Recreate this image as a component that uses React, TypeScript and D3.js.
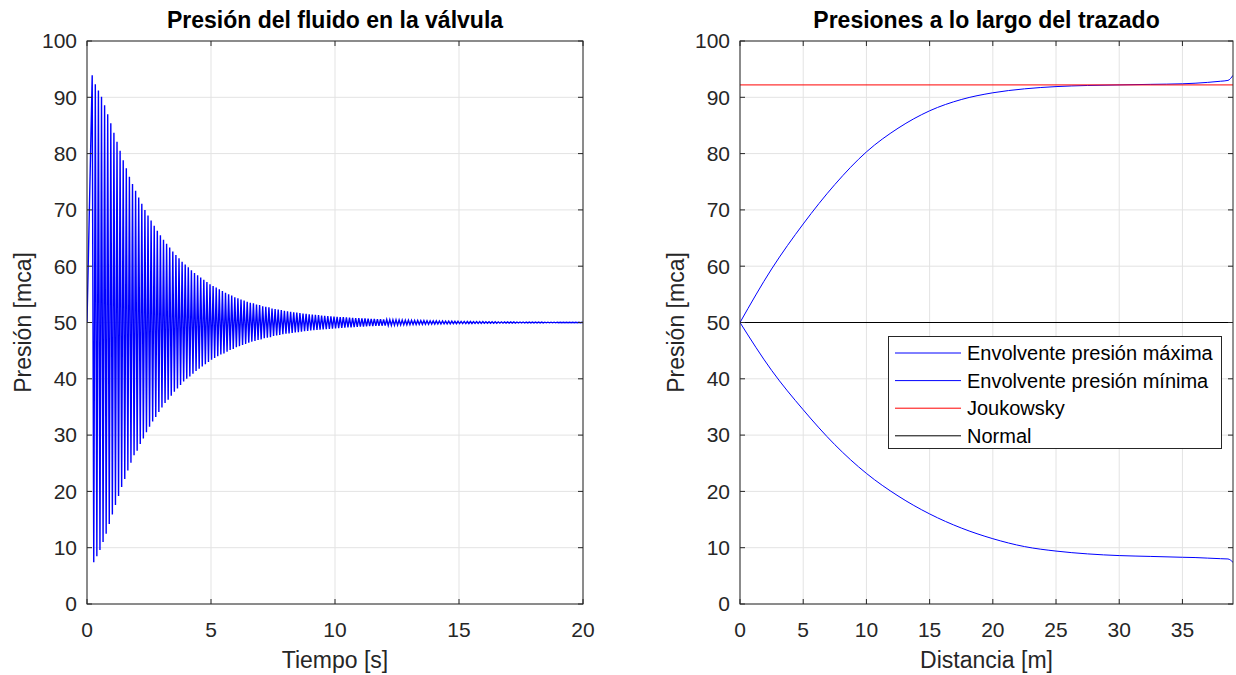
import React from "react";
import * as d3 from "d3";

// ---------- Data: left panel (pressure at the valve) ----------
// Time of first peak and oscillation period [s]
const oscStart = 0.21;
const oscPeriod = 0.125;
// successive maxima [mca]
const peakMax = [
  93.9, 92.3, 91.2, 90.1, 88.6, 87.0, 85.4, 83.7, 82.1, 80.5, 78.8, 77.4, 75.9,
  74.6, 73.4, 72.2, 71.1, 70.0, 69.0, 68.1, 67.2, 66.3, 65.5, 64.7, 64.0, 63.3,
  62.6, 62.0, 61.4, 60.8, 60.3, 59.8, 59.3, 58.8, 58.4, 58.0, 57.6, 57.2, 56.8,
  56.5, 56.2, 55.9, 55.6, 55.3, 55.0, 54.8, 54.5, 54.3, 54.1, 53.9, 53.7,
  53.5, 53.4, 53.2, 53.1, 52.9, 52.8, 52.7, 52.5, 52.4, 52.3, 52.2, 52.1, 52.0,
  51.9, 51.8, 51.75, 51.67, 51.6,
  51.54, 51.47, 51.41, 51.36, 51.3, 51.25, 51.2, 51.15, 51.11, 51.06, 51.02,
  50.98, 50.94, 50.9, 50.87, 50.83, 50.8, 50.77, 50.74, 50.71, 50.68, 50.65,
  50.62, 50.6, 50.58, 50.55, 50.53, 50.51, 50.49,
  50.47, 50.45, 50.43, 50.41, 50.4, 50.38, 50.37, 50.35, 50.34, 50.33, 50.31,
  50.3, 50.29, 50.28, 50.27, 50.26, 50.25, 50.24, 50.23, 50.22, 50.21, 50.2,
  50.19, 50.18, 50.18, 50.17, 50.16, 50.16, 50.15, 50.14, 50.14, 50.13, 50.13,
  50.12, 50.12, 50.11, 50.11, 50.1, 50.1, 50.09, 50.09, 50.09, 50.08, 50.08,
  50.08, 50.07, 50.07, 50.07, 50.06, 50.06, 50.06, 50.06, 50.05, 50.05, 50.05,
  50.05, 50.04, 50.04, 50.04, 50.04, 50.04, 50.03,
];
// successive minima [mca]
const peakMin = [
  7.4, 8.5, 9.6, 11.0, 12.5, 14.2, 15.9, 17.6, 19.2, 20.8, 22.2, 23.7, 25.1,
  26.4, 27.2, 28.4, 29.4, 30.5, 31.5, 32.4, 33.2, 34.1, 34.9, 35.7, 36.3, 37.0,
  37.7, 38.3, 38.9, 39.5, 40.0, 40.4, 40.9, 41.4, 41.8, 42.2, 42.6, 43.0, 43.4,
  43.7, 44.0, 44.3, 44.5, 44.8, 45.1, 45.3, 45.6, 45.8, 46.0, 46.2, 46.4,
  46.6, 46.7, 46.9, 47.0, 47.2, 47.3, 47.4, 47.6, 47.7, 47.8, 47.9, 48.0, 48.05,
  48.15, 48.24, 48.29, 48.37, 48.44,
  48.5, 48.57, 48.63, 48.67, 48.73, 48.78, 48.83, 48.88, 48.92, 48.97, 49.01,
  49.04, 49.08, 49.12, 49.15, 49.19, 49.22, 49.25, 49.28, 49.31, 49.34, 49.37,
  49.4, 49.41, 49.43, 49.46, 49.48, 49.5, 49.52,
  49.54, 49.56, 49.58, 49.6, 49.61, 49.63, 49.64, 49.66, 49.67, 49.68, 49.7,
  49.71, 49.72, 49.73, 49.74, 49.75, 49.76, 49.77, 49.78, 49.79, 49.8, 49.8,
  49.81, 49.82, 49.82, 49.83, 49.84, 49.84, 49.85, 49.86, 49.86, 49.87, 49.87,
  49.88, 49.88, 49.89, 49.89, 49.9, 49.9, 49.91, 49.91, 49.91, 49.92, 49.92,
  49.92, 49.93, 49.93, 49.93, 49.94, 49.94, 49.94, 49.94, 49.95, 49.95, 49.95,
  49.95, 49.96, 49.96, 49.96, 49.96, 49.96, 49.97,
];
const initialPressure = 50;

// ---------- Data: right panel (pressures along the pipe) ----------
const distance = [0, 2.5, 5, 7.5, 10, 12.5, 15, 17.5, 20, 22.5, 25, 27.5, 30, 32.5, 35, 36, 37, 38, 38.6, 39];
const envelopeMax = [50, 59.5, 67.5, 74.5, 80.3, 84.5, 87.6, 89.6, 90.8, 91.5, 91.9, 92.1, 92.2, 92.3, 92.4, 92.5, 92.65, 92.85, 93.0, 93.9];
const envelopeMin = [50, 41.5, 34.5, 28.3, 23.2, 19.2, 16.0, 13.5, 11.6, 10.2, 9.4, 8.9, 8.6, 8.45, 8.3, 8.25, 8.15, 8.05, 8.0, 7.4];
const joukowsky = 92.2;
const normalPressure = 50;

const leftXTicks = [0, 5, 10, 15, 20];
const rightXTicks = [0, 5, 10, 15, 20, 25, 30, 35];
const yTicks = [0, 10, 20, 30, 40, 50, 60, 70, 80, 90, 100];

const legendLabels = ["Envolvente presión máxima", "Envolvente presión mínima", "Joukowsky", "Normal"];
const legendColors = ["#0000ff", "#0000ff", "#ff0000", "#000000"];

// ---------- Styles ----------
const FONT = '"Liberation Sans", Arial, Helvetica, sans-serif';
const AXIS = "#262626";
const GRID = "#e3e3e3";
const TICK_FS = 21;
const LABEL_FS = 23;
const TITLE_FS = 23;
const LEGEND_FS = 20;

const W = 1236;
const H = 675;
const top = 41;
const bottom = 604;

type PanelProps = {
  id: string;
  x0: number;
  x1: number;
  xDomain: [number, number];
  xTicks: number[];
  title: string;
  xLabel: string;
  children: (x: d3.ScaleLinear<number, number>, y: d3.ScaleLinear<number, number>) => React.ReactNode;
};

function Panel({ id, x0, x1, xDomain, xTicks, title, xLabel, children }: PanelProps) {
  const x = d3.scaleLinear().domain(xDomain).range([x0, x1]);
  const y = d3.scaleLinear().domain([0, 100]).range([bottom, top]);
  const tl = 5;
  return (
    <g>
      <defs>
        <clipPath id={id}>
          <rect x={x0} y={top} width={x1 - x0} height={bottom - top} />
        </clipPath>
      </defs>
      <rect x={x0} y={top} width={x1 - x0} height={bottom - top} fill="#fff" />
      {/* grid */}
      {xTicks.map((t) => (
        <line key={"gx" + t} x1={x(t)} x2={x(t)} y1={top} y2={bottom} stroke={GRID} strokeWidth={1} />
      ))}
      {yTicks.map((t) => (
        <line key={"gy" + t} x1={x0} x2={x1} y1={y(t)} y2={y(t)} stroke={GRID} strokeWidth={1} />
      ))}
      <g clipPath={`url(#${id})`}>{children(x, y)}</g>
      {/* box */}
      <rect x={x0} y={top} width={x1 - x0} height={bottom - top} fill="none" stroke={AXIS} strokeWidth={1} />
      {/* ticks */}
      {xTicks.map((t) => (
        <g key={"tx" + t}>
          <line x1={x(t)} x2={x(t)} y1={bottom} y2={bottom - tl} stroke={AXIS} />
          <line x1={x(t)} x2={x(t)} y1={top} y2={top + tl} stroke={AXIS} />
          <text x={x(t)} y={bottom + 33} textAnchor="middle" fontSize={TICK_FS} fill={AXIS} fontFamily={FONT}>
            {t}
          </text>
        </g>
      ))}
      {yTicks.map((t) => (
        <g key={"ty" + t}>
          <line x1={x0} x2={x0 + tl} y1={y(t)} y2={y(t)} stroke={AXIS} />
          <line x1={x1} x2={x1 - tl} y1={y(t)} y2={y(t)} stroke={AXIS} />
          <text x={x0 - 10} y={y(t)} dy="0.35em" textAnchor="end" fontSize={TICK_FS} fill={AXIS} fontFamily={FONT}>
            {t}
          </text>
        </g>
      ))}
      <text x={(x0 + x1) / 2} y={28} textAnchor="middle" fontSize={TITLE_FS} fontWeight="bold" fill="#000" fontFamily={FONT}>
        {title}
      </text>
      <text x={(x0 + x1) / 2} y={668} textAnchor="middle" fontSize={LABEL_FS} fill={AXIS} fontFamily={FONT}>
        {xLabel}
      </text>
      <text
        transform={`translate(${x0 - 56},${(top + bottom) / 2}) rotate(-90)`}
        textAnchor="middle"
        fontSize={LABEL_FS}
        fill={AXIS}
        fontFamily={FONT}
      >
        Presión [mca]
      </text>
    </g>
  );
}

export default function App() {
  // Left signal: start level then alternating maxima / minima
  const signal: [number, number][] = [[0, initialPressure]];
  peakMax.forEach((v, k) => {
    signal.push([oscStart + k * oscPeriod, v]);
    if (k < peakMin.length) signal.push([oscStart + (k + 0.5) * oscPeriod, peakMin[k]]);
  });

  const envMaxPts = distance.map((d, i) => [d, envelopeMax[i]] as [number, number]);
  const envMinPts = distance.map((d, i) => [d, envelopeMin[i]] as [number, number]);

  return (
    <svg width={W} height={H} style={{ position: "absolute", left: 0, top: 0, background: "#fff" }}>
      <rect x={0} y={0} width={W} height={H} fill="#fff" />
      <Panel
        id="clipL"
        x0={87}
        x1={583}
        xDomain={[0, 20]}
        xTicks={leftXTicks}
        title="Presión del fluido en la válvula"
        xLabel="Tiempo [s]"
      >
        {(x, y) => {
          const line = d3
            .line<[number, number]>()
            .x((d) => x(d[0]))
            .y((d) => y(d[1]));
          return <path d={line(signal) || ""} fill="none" stroke="#0000ff" strokeWidth={1.4} />;
        }}
      </Panel>
      <Panel
        id="clipR"
        x0={740}
        x1={1233}
        xDomain={[0, 39]}
        xTicks={rightXTicks}
        title="Presiones a lo largo del trazado"
        xLabel="Distancia [m]"
      >
        {(x, y) => {
          const line = d3
            .line<[number, number]>()
            .x((d) => x(d[0]))
            .y((d) => y(d[1]))
            .curve(d3.curveMonotoneX);
          const [d0, d1] = x.domain();
          return (
            <g>
              <path d={line(envMaxPts) || ""} fill="none" stroke="#0000ff" strokeWidth={1} />
              <path d={line(envMinPts) || ""} fill="none" stroke="#0000ff" strokeWidth={1} />
              <line x1={x(d0)} x2={x(d1)} y1={y(joukowsky)} y2={y(joukowsky)} stroke="#ff0000" strokeWidth={1} />
              <line x1={x(d0)} x2={x(d1)} y1={y(normalPressure)} y2={y(normalPressure)} stroke="#000000" strokeWidth={1} />
            </g>
          );
        }}
      </Panel>
      {/* legend */}
      <g>
        <rect x={888.5} y={336.5} width={333} height={112} fill="#fff" stroke={AXIS} strokeWidth={1} />
        {legendLabels.map((lab, i) => {
          const yy = 353 + i * 27.6;
          return (
            <g key={lab}>
              <line x1={895} x2={961} y1={yy} y2={yy} stroke={legendColors[i]} strokeWidth={1} />
              <text x={967} y={yy} dy="0.35em" fontSize={LEGEND_FS} fill="#000" fontFamily={FONT}>
                {lab}
              </text>
            </g>
          );
        })}
      </g>
    </svg>
  );
}
